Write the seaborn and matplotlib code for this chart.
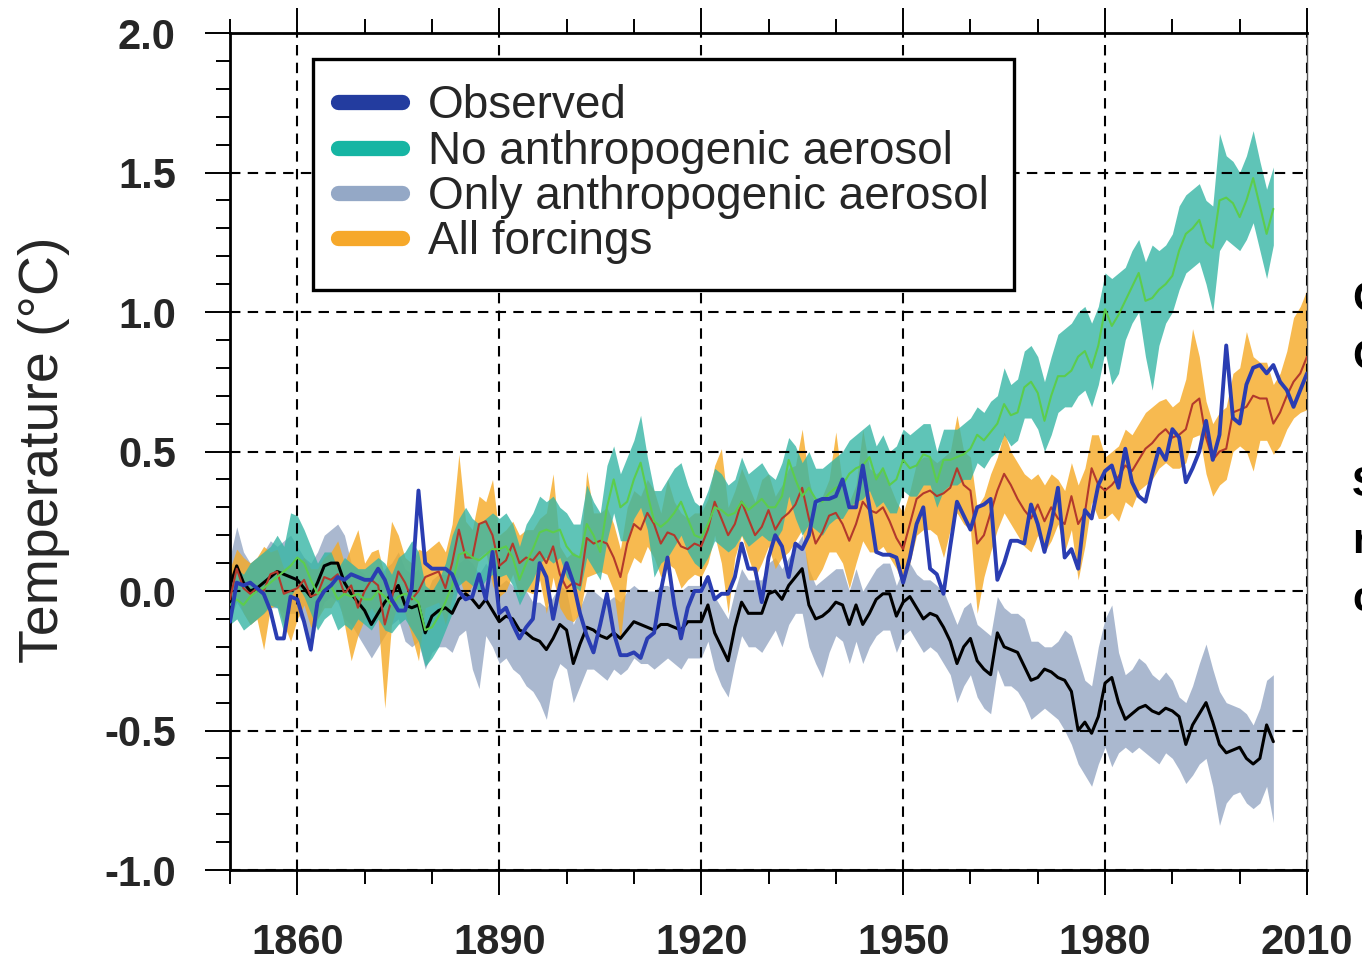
import numpy as np
import pandas as pd
import matplotlib
matplotlib.use("Agg")
import matplotlib.pyplot as plt
from matplotlib.lines import Line2D
from matplotlib.ticker import MultipleLocator, FixedLocator
from matplotlib import font_manager
from matplotlib.font_manager import FontProperties
import seaborn as sns

# ---------------- data ----------------
years_long = list(range(1850, 2011))    # observed & all forcings
years_short = list(range(1850, 2006))   # single-forcing experiments

observed = [
    -0.11, 0.03, 0.02, 0.03, 0.01, -0.01, -0.07, -0.17, -0.17, -0.02,
    -0.03, -0.11, -0.21, -0.04, 0.00, 0.02, 0.05, 0.04, 0.06, 0.05,
    0.04, 0.04, 0.08, 0.04, -0.03, -0.07, -0.07, 0.01, 0.36, 0.10,
    0.08, 0.08, 0.08, 0.06, 0.00, -0.03, -0.02, 0.06, -0.03, 0.14,
    -0.08, -0.06, -0.12, -0.17, -0.13, -0.10, 0.10, 0.05, -0.10, 0.02,
    0.10, 0.03, -0.08, -0.16, -0.22, -0.12, -0.01, -0.15, -0.23, -0.23,
    -0.22, -0.24, -0.17, -0.15, 0.00, 0.12, -0.05, -0.17, -0.06, 0.00,
    0.00, 0.05, -0.03, -0.01, -0.01, 0.05, 0.17, 0.08, 0.08, -0.04,
    0.12, 0.20, 0.16, 0.05, 0.17, 0.15, 0.20, 0.32, 0.33, 0.33,
    0.34, 0.40, 0.30, 0.30, 0.45, 0.30, 0.14, 0.13, 0.13, 0.12,
    0.03, 0.12, 0.24, 0.30, 0.08, 0.06, -0.01, 0.16, 0.32, 0.27,
    0.22, 0.30, 0.31, 0.33, 0.04, 0.10, 0.18, 0.18, 0.17, 0.31,
    0.24, 0.14, 0.24, 0.37, 0.12, 0.15, 0.08, 0.29, 0.26, 0.38,
    0.43, 0.45, 0.37, 0.51, 0.39, 0.34, 0.32, 0.42, 0.51, 0.47,
    0.58, 0.55, 0.39, 0.44, 0.50, 0.61, 0.47, 0.56, 0.88, 0.62,
    0.60, 0.74, 0.80, 0.81, 0.78, 0.81, 0.75, 0.72, 0.66, 0.72, 0.78,
]

all_forcings = [
    -0.03, 0.08, 0.01, -0.01, 0.01, 0.00, 0.06, 0.07, -0.01, 0.00,
    0.01, 0.04, -0.02, -0.01, 0.05, 0.04, 0.06, -0.01, 0.02, -0.06,
    0.00, 0.04, 0.02, -0.12, -0.03, 0.07, 0.03, -0.03, 0.00, 0.05,
    0.06, 0.07, 0.01, 0.10, 0.22, 0.12, 0.12, 0.24, 0.25, 0.20,
    0.09, 0.11, 0.17, 0.10, 0.12, 0.11, 0.14, 0.10, 0.16, 0.06,
    0.01, 0.03, 0.02, 0.19, 0.17, 0.18, 0.17, 0.12, 0.05, 0.17,
    0.24, 0.22, 0.28, 0.24, 0.17, 0.21, 0.20, 0.16, 0.15, 0.17,
    0.16, 0.22, 0.32, 0.26, 0.20, 0.24, 0.32, 0.26, 0.20, 0.23,
    0.29, 0.22, 0.26, 0.28, 0.31, 0.37, 0.26, 0.17, 0.21, 0.27,
    0.28, 0.24, 0.18, 0.24, 0.32, 0.29, 0.28, 0.30, 0.25, 0.19,
    0.15, 0.24, 0.33, 0.35, 0.36, 0.34, 0.35, 0.37, 0.44, 0.38,
    0.36, 0.17, 0.20, 0.28, 0.36, 0.42, 0.38, 0.33, 0.29, 0.26,
    0.31, 0.25, 0.30, 0.26, 0.24, 0.34, 0.24, 0.28, 0.44, 0.38,
    0.36, 0.38, 0.41, 0.45, 0.43, 0.47, 0.51, 0.53, 0.56, 0.58,
    0.55, 0.56, 0.58, 0.67, 0.69, 0.55, 0.47, 0.50, 0.51, 0.64,
    0.65, 0.66, 0.70, 0.69, 0.69, 0.60, 0.64, 0.70, 0.75, 0.78, 0.84,
]
all_forcings_hi = [
    0.08, 0.15, 0.12, 0.10, 0.12, 0.16, 0.14, 0.15, 0.08, 0.10,
    0.10, 0.12, 0.08, 0.08, 0.12, 0.14, 0.18, 0.10, 0.16, 0.22,
    0.10, 0.14, 0.15, 0.05, 0.25, 0.20, 0.12, 0.10, 0.15, 0.14,
    0.16, 0.18, 0.14, 0.24, 0.49, 0.25, 0.22, 0.34, 0.32, 0.40,
    0.20, 0.22, 0.25, 0.20, 0.22, 0.22, 0.26, 0.28, 0.42, 0.16,
    0.12, 0.14, 0.12, 0.43, 0.28, 0.28, 0.30, 0.24, 0.15, 0.30,
    0.36, 0.34, 0.40, 0.36, 0.28, 0.40, 0.32, 0.28, 0.26, 0.28,
    0.28, 0.33, 0.45, 0.51, 0.30, 0.36, 0.44, 0.38, 0.32, 0.40,
    0.42, 0.34, 0.38, 0.44, 0.45, 0.58, 0.40, 0.30, 0.34, 0.40,
    0.57, 0.38, 0.32, 0.38, 0.58, 0.44, 0.42, 0.44, 0.38, 0.32,
    0.28, 0.36, 0.46, 0.48, 0.48, 0.46, 0.48, 0.50, 0.63, 0.50,
    0.48, 0.30, 0.34, 0.42, 0.48, 0.57, 0.50, 0.46, 0.42, 0.40,
    0.42, 0.38, 0.42, 0.40, 0.36, 0.46, 0.38, 0.44, 0.56, 0.56,
    0.48, 0.50, 0.52, 0.58, 0.56, 0.60, 0.64, 0.66, 0.68, 0.69,
    0.66, 0.68, 0.76, 0.94, 0.84, 0.68, 0.60, 0.64, 0.66, 0.78,
    0.80, 0.93, 0.84, 0.82, 0.82, 0.74, 0.78, 0.86, 0.98, 1.02, 1.08,
]
all_forcings_lo = [
    -0.12, -0.02, -0.08, -0.12, -0.10, -0.21, -0.06, -0.05, -0.12, -0.18,
    -0.10, -0.05, -0.13, -0.10, -0.06, -0.06, -0.02, -0.12, -0.25, -0.16,
    -0.10, -0.06, -0.10, -0.42, -0.12, -0.04, -0.08, -0.16, -0.25, -0.06,
    -0.05, -0.04, -0.12, -0.02, 0.05, -0.02, 0.02, 0.12, 0.14, 0.02,
    -0.02, 0.00, 0.06, -0.02, 0.00, -0.01, 0.04, -0.08, 0.05, -0.06,
    -0.10, -0.11, -0.08, 0.05, 0.06, 0.07, 0.06, 0.00, -0.18, 0.06,
    0.12, 0.10, 0.16, 0.12, 0.05, 0.10, 0.08, 0.01, 0.04, 0.06,
    0.05, 0.10, 0.20, 0.10, -0.08, 0.12, 0.20, 0.12, 0.05, 0.10,
    0.16, 0.08, 0.12, 0.14, 0.18, 0.22, 0.04, 0.04, 0.08, 0.14,
    0.14, 0.10, 0.01, 0.10, 0.18, 0.14, 0.14, 0.16, 0.12, 0.08,
    0.02, 0.10, 0.20, 0.22, 0.22, 0.20, 0.12, 0.22, 0.28, 0.24,
    0.22, -0.08, 0.05, 0.14, 0.22, 0.28, 0.24, 0.20, 0.16, 0.14,
    0.20, 0.14, 0.18, 0.24, 0.14, 0.22, 0.04, 0.16, 0.32, 0.26,
    0.26, 0.28, 0.25, 0.32, 0.30, 0.36, 0.38, 0.40, 0.44, 0.46,
    0.44, 0.44, 0.46, 0.55, 0.56, 0.42, 0.34, 0.38, 0.40, 0.50,
    0.52, 0.50, 0.43, 0.54, 0.54, 0.49, 0.52, 0.58, 0.62, 0.64, 0.65,
]

no_aerosol = [
    -0.05, -0.03, -0.05, -0.02, 0.00, 0.01, 0.03, 0.05, 0.07, 0.09,
    0.12, 0.10, 0.04, -0.01, 0.01, 0.02, -0.03, -0.01, -0.02, -0.01,
    -0.03, -0.03, 0.00, -0.02, -0.05, -0.02, -0.01, -0.02, -0.04, -0.14,
    -0.13, -0.09, -0.04, 0.02, 0.13, 0.14, 0.12, 0.11, 0.13, 0.15,
    0.15, 0.16, 0.12, 0.04, 0.10, 0.15, 0.21, 0.22, 0.21, 0.22,
    0.16, 0.13, 0.12, 0.24, 0.20, 0.14, 0.30, 0.40, 0.30, 0.32,
    0.40, 0.46, 0.35, 0.25, 0.23, 0.25, 0.28, 0.32, 0.26, 0.20,
    0.19, 0.24, 0.30, 0.29, 0.27, 0.28, 0.32, 0.29, 0.31, 0.33,
    0.30, 0.30, 0.34, 0.47, 0.40, 0.34, 0.37, 0.33, 0.32, 0.35,
    0.37, 0.38, 0.42, 0.44, 0.45, 0.48, 0.40, 0.44, 0.38, 0.40,
    0.47, 0.44, 0.45, 0.49, 0.48, 0.39, 0.47, 0.47, 0.48, 0.49,
    0.51, 0.56, 0.54, 0.57, 0.60, 0.67, 0.63, 0.64, 0.73, 0.75,
    0.71, 0.61, 0.70, 0.77, 0.77, 0.79, 0.84, 0.86, 0.80, 0.88,
    1.01, 0.95, 0.99, 1.04, 1.09, 1.14, 1.04, 1.05, 1.08, 1.10,
    1.13, 1.22, 1.28, 1.30, 1.33, 1.25, 1.23, 1.40, 1.41, 1.39,
    1.34, 1.40, 1.48, 1.38, 1.28, 1.37,
]
no_aerosol_hi = [
    0.05, 0.08, 0.06, 0.10, 0.12, 0.14, 0.16, 0.20, 0.16, 0.28,
    0.27, 0.22, 0.16, 0.10, 0.14, 0.14, 0.08, 0.12, 0.10, 0.08,
    0.08, 0.10, 0.12, 0.10, 0.06, 0.12, 0.14, 0.18, 0.14, 0.02,
    0.00, 0.04, 0.10, 0.20, 0.26, 0.30, 0.26, 0.24, 0.26, 0.28,
    0.26, 0.28, 0.24, 0.16, 0.24, 0.28, 0.34, 0.32, 0.34, 0.30,
    0.28, 0.24, 0.24, 0.38, 0.32, 0.28, 0.45, 0.52, 0.42, 0.48,
    0.54, 0.63, 0.48, 0.36, 0.36, 0.40, 0.44, 0.46, 0.38, 0.32,
    0.30, 0.36, 0.44, 0.42, 0.38, 0.40, 0.48, 0.42, 0.44, 0.46,
    0.42, 0.40, 0.46, 0.55, 0.52, 0.46, 0.50, 0.44, 0.44, 0.46,
    0.48, 0.50, 0.54, 0.56, 0.58, 0.60, 0.52, 0.56, 0.50, 0.52,
    0.58, 0.56, 0.58, 0.60, 0.60, 0.50, 0.58, 0.58, 0.58, 0.60,
    0.62, 0.66, 0.64, 0.68, 0.70, 0.80, 0.74, 0.76, 0.86, 0.88,
    0.84, 0.75, 0.84, 0.92, 0.94, 0.96, 1.00, 1.02, 0.96, 1.02,
    1.14, 1.12, 1.14, 1.16, 1.22, 1.26, 1.18, 1.24, 1.22, 1.24,
    1.28, 1.38, 1.42, 1.44, 1.46, 1.40, 1.38, 1.64, 1.56, 1.54,
    1.50, 1.56, 1.65, 1.54, 1.44, 1.52,
]
no_aerosol_lo = [
    -0.12, -0.10, -0.14, -0.12, -0.10, -0.08, -0.05, -0.06, -0.15, -0.02,
    0.02, -0.02, -0.08, -0.14, -0.10, -0.08, -0.14, -0.12, -0.14, -0.10,
    -0.12, -0.14, -0.10, -0.14, -0.15, -0.12, -0.10, -0.14, -0.18, -0.27,
    -0.24, -0.20, -0.14, -0.08, 0.02, 0.04, 0.02, 0.00, 0.04, 0.06,
    0.05, 0.06, 0.02, -0.05, 0.00, 0.04, 0.10, 0.12, 0.10, 0.12,
    0.05, 0.02, 0.00, 0.12, 0.08, 0.04, 0.18, 0.28, 0.18, 0.18,
    0.26, 0.30, 0.22, 0.05, 0.10, 0.12, 0.16, 0.20, 0.14, 0.10,
    0.08, 0.12, 0.18, 0.16, 0.14, 0.16, 0.20, 0.16, 0.18, 0.20,
    0.18, 0.18, 0.22, 0.34, 0.26, 0.20, 0.24, 0.22, 0.20, 0.24,
    0.26, 0.26, 0.30, 0.32, 0.33, 0.36, 0.30, 0.32, 0.28, 0.28,
    0.36, 0.34, 0.34, 0.38, 0.38, 0.30, 0.36, 0.38, 0.38, 0.40,
    0.40, 0.46, 0.44, 0.48, 0.50, 0.56, 0.52, 0.54, 0.62, 0.62,
    0.58, 0.50, 0.56, 0.64, 0.66, 0.66, 0.70, 0.72, 0.66, 0.74,
    0.86, 0.74, 0.78, 0.90, 0.96, 1.00, 0.84, 0.72, 0.88, 0.96,
    1.00, 1.08, 1.14, 1.16, 1.18, 1.10, 1.00, 1.22, 1.26, 1.24,
    1.22, 1.26, 1.32, 1.22, 1.12, 1.24,
]

only_aerosol = [
    0.02, 0.09, 0.03, 0.00, 0.01, 0.03, 0.05, 0.07, 0.06, 0.05,
    0.04, 0.01, -0.02, 0.03, 0.09, 0.10, 0.10, 0.03, -0.01, -0.04,
    -0.07, -0.12, -0.08, -0.04, -0.01, 0.02, -0.05, -0.06, -0.05, -0.15,
    -0.09, -0.07, -0.06, -0.08, -0.03, -0.01, -0.03, -0.06, -0.03, -0.07,
    -0.11, -0.09, -0.10, -0.14, -0.15, -0.17, -0.18, -0.21, -0.17, -0.12,
    -0.14, -0.26, -0.19, -0.13, -0.14, -0.16, -0.17, -0.15, -0.17, -0.14,
    -0.11, -0.12, -0.13, -0.14, -0.12, -0.12, -0.13, -0.14, -0.11, -0.11,
    -0.11, -0.05, -0.15, -0.20, -0.25, -0.13, -0.04, -0.08, -0.08, -0.08,
    -0.01, 0.00, -0.03, 0.02, 0.05, 0.08, -0.05, -0.10, -0.09, -0.07,
    -0.04, -0.05, -0.12, -0.05, -0.12, -0.08, -0.03, -0.01, -0.01, -0.09,
    -0.04, -0.02, -0.06, -0.10, -0.08, -0.09, -0.13, -0.18, -0.26, -0.20,
    -0.17, -0.25, -0.28, -0.30, -0.15, -0.20, -0.21, -0.22, -0.27, -0.32,
    -0.31, -0.28, -0.29, -0.31, -0.32, -0.36, -0.50, -0.47, -0.51, -0.45,
    -0.33, -0.31, -0.40, -0.46, -0.44, -0.42, -0.41, -0.43, -0.44, -0.42,
    -0.43, -0.45, -0.55, -0.48, -0.44, -0.40, -0.47, -0.55, -0.58, -0.57,
    -0.56, -0.60, -0.62, -0.60, -0.48, -0.54,
]
only_aerosol_hi = [
    0.12, 0.23, 0.14, 0.10, 0.12, 0.14, 0.18, 0.16, 0.18, 0.20,
    0.16, 0.12, 0.10, 0.14, 0.20, 0.22, 0.24, 0.20, 0.10, 0.08,
    0.06, 0.00, 0.04, 0.08, 0.10, 0.14, 0.08, 0.06, 0.08, -0.02,
    0.04, 0.06, 0.06, 0.04, 0.10, 0.12, 0.10, 0.06, 0.10, 0.06,
    0.02, 0.04, 0.02, -0.02, 0.00, -0.04, -0.04, -0.06, -0.02, 0.02,
    0.00, -0.12, -0.06, 0.00, 0.00, -0.02, -0.04, -0.02, -0.04, 0.00,
    0.02, 0.00, 0.00, 0.00, 0.02, 0.02, 0.00, 0.00, 0.02, 0.02,
    0.02, 0.06, -0.02, -0.06, -0.10, 0.00, 0.08, 0.04, 0.04, 0.04,
    0.10, 0.12, 0.08, 0.12, 0.16, 0.20, 0.08, 0.02, 0.04, 0.06,
    0.08, 0.08, 0.00, 0.08, 0.00, 0.04, 0.08, 0.10, 0.10, 0.02,
    0.08, 0.10, 0.06, 0.04, 0.04, 0.02, 0.00, -0.06, -0.12, -0.06,
    -0.04, -0.12, -0.14, -0.16, -0.02, -0.06, -0.08, -0.08, -0.10, -0.18,
    -0.18, -0.20, -0.20, -0.18, -0.14, -0.16, -0.24, -0.32, -0.34, -0.20,
    -0.10, -0.05, -0.22, -0.30, -0.28, -0.24, -0.26, -0.30, -0.32, -0.29,
    -0.32, -0.38, -0.40, -0.34, -0.26, -0.19, -0.28, -0.36, -0.40, -0.41,
    -0.42, -0.44, -0.48, -0.42, -0.32, -0.30,
]
only_aerosol_lo = [
    -0.10, -0.04, -0.08, -0.12, -0.10, -0.08, -0.06, -0.06, -0.08, -0.08,
    -0.08, -0.12, -0.22, -0.10, -0.04, -0.02, -0.04, -0.10, -0.12, -0.16,
    -0.20, -0.24, -0.20, -0.16, -0.12, -0.10, -0.18, -0.20, -0.18, -0.28,
    -0.22, -0.20, -0.20, -0.22, -0.16, -0.14, -0.28, -0.35, -0.16, -0.20,
    -0.26, -0.24, -0.28, -0.30, -0.34, -0.36, -0.40, -0.46, -0.32, -0.26,
    -0.28, -0.40, -0.34, -0.28, -0.28, -0.30, -0.32, -0.28, -0.30, -0.28,
    -0.24, -0.26, -0.26, -0.28, -0.26, -0.24, -0.26, -0.28, -0.24, -0.24,
    -0.24, -0.18, -0.28, -0.34, -0.38, -0.26, -0.16, -0.20, -0.20, -0.22,
    -0.18, -0.14, -0.20, -0.12, -0.08, -0.08, -0.20, -0.26, -0.31, -0.22,
    -0.16, -0.18, -0.26, -0.18, -0.26, -0.20, -0.16, -0.14, -0.14, -0.22,
    -0.16, -0.14, -0.18, -0.22, -0.20, -0.22, -0.26, -0.30, -0.40, -0.34,
    -0.30, -0.38, -0.42, -0.44, -0.28, -0.34, -0.34, -0.36, -0.40, -0.46,
    -0.44, -0.42, -0.44, -0.46, -0.50, -0.55, -0.62, -0.66, -0.70, -0.62,
    -0.56, -0.63, -0.58, -0.56, -0.58, -0.56, -0.58, -0.60, -0.62, -0.58,
    -0.60, -0.64, -0.69, -0.66, -0.62, -0.60, -0.70, -0.84, -0.76, -0.73,
    -0.72, -0.76, -0.78, -0.76, -0.70, -0.83,
]

legend_labels = ["Observed", "No anthropogenic aerosol",
                 "Only anthropogenic aerosol", "All forcings"]
x_major_ticks = [1860, 1890, 1920, 1950, 1980, 2010]
y_major_ticks = [-1.0, -0.5, 0.0, 0.5, 1.0, 1.5, 2.0]
side_text = ["C", "C", "S", "r", "c"]

# ---------------- style ----------------
sns.set_theme(style="white")
names = {f.name for f in font_manager.fontManager.ttflist}
NARROW = "Liberation Sans Narrow" if "Liberation Sans Narrow" in names else None
if NARROW:
    tick_fp = FontProperties(family=NARROW, weight="bold", size=37)
    leg_fp = FontProperties(family=NARROW, size=40)
else:
    tick_fp = FontProperties(family="Liberation Sans", weight="bold", size=30)
    leg_fp = FontProperties(family="Liberation Sans", size=33)
plt.rcParams["font.family"] = ["Liberation Sans", "DejaVu Sans"]

c_blue = "#2a3db2"
c_teal = "#37b6a5"
c_grey = "#95a7c4"
c_orange = "#f6a924"
c_green = "#5ccd4c"
c_red = "#b3392c"

fig = plt.figure(figsize=(13.62, 9.63), dpi=100)
ax = fig.add_axes([230 / 1362, 1 - 870 / 963, (1307 - 230) / 1362, (870 - 33) / 963])

df_long = pd.DataFrame({"year": years_long, "obs": observed, "af": all_forcings,
                        "af_lo": all_forcings_lo, "af_hi": all_forcings_hi})
df_short = pd.DataFrame({"year": years_short, "na": no_aerosol, "na_lo": no_aerosol_lo,
                         "na_hi": no_aerosol_hi, "oa": only_aerosol,
                         "oa_lo": only_aerosol_lo, "oa_hi": only_aerosol_hi})

ALPHA = 0.8
ax.fill_between(df_short["year"], df_short["oa_lo"], df_short["oa_hi"],
                color=c_grey, alpha=ALPHA, lw=0, zorder=1)
ax.fill_between(df_long["year"], df_long["af_lo"], df_long["af_hi"],
                color=c_orange, alpha=ALPHA, lw=0, zorder=1.1)
ax.fill_between(df_short["year"], df_short["na_lo"], df_short["na_hi"],
                color=c_teal, alpha=ALPHA, lw=0, zorder=1.2)

sns.lineplot(data=df_short, x="year", y="oa", ax=ax, color="black", lw=2.2, zorder=3)
sns.lineplot(data=df_long, x="year", y="af", ax=ax, color=c_red, lw=1.5, zorder=3.1)
sns.lineplot(data=df_short, x="year", y="na", ax=ax, color=c_green, lw=1.5, zorder=3.2)
sns.lineplot(data=df_long, x="year", y="obs", ax=ax, color=c_blue, lw=2.8, zorder=3.3)

ax.set_xlim(1850, 2010)
ax.set_ylim(-1.0, 2.0)
ax.xaxis.set_major_locator(FixedLocator(x_major_ticks))
ax.xaxis.set_minor_locator(MultipleLocator(10))
ax.yaxis.set_major_locator(FixedLocator(y_major_ticks))
ax.yaxis.set_minor_locator(MultipleLocator(0.1))
ax.set_xticklabels([str(t) for t in x_major_ticks], fontproperties=tick_fp)
ax.set_yticklabels([f"{t:.1f}" for t in y_major_ticks], fontproperties=tick_fp)

ax.tick_params(axis="x", which="both", direction="out", top=True, bottom=True,
               labeltop=False, color="black")
ax.tick_params(axis="y", which="both", direction="out", left=True, right=False, color="black")
ax.tick_params(axis="x", which="major", length=18, width=1.4, pad=20)
ax.tick_params(axis="x", which="minor", length=10, width=1.4)
ax.tick_params(axis="y", which="major", length=18, width=1.4, pad=21)
ax.tick_params(axis="y", which="minor", length=10, width=1.4)

ax.set_axisbelow(False)
ax.grid(True, which="major", color="black", lw=1.5, linestyle=(0, (5, 3.5)))

for side in ["left", "bottom", "top"]:
    ax.spines[side].set_color("black")
    ax.spines[side].set_linewidth(2.0)
ax.spines["right"].set_color("#555555")
ax.spines["right"].set_linewidth(1.0)

ax.set_xlabel("")
ax.set_ylabel("Temperature (°C)", fontsize=40, family="Liberation Sans")
ax.yaxis.set_label_coords((44 - 230) / 1077, (870 - 450) / 837)
ax.yaxis.label.set_va("center")

handles = [Line2D([0], [0], color=c, lw=11, solid_capstyle="round")
           for c in ["#233c9f", "#16b5a3", "#94a8c6", "#f6a82a"]]
leg = ax.legend(handles, legend_labels, loc="upper left",
                bbox_to_anchor=((313 - 230) / 1077, (870 - 59) / 837),
                borderaxespad=0, frameon=True, fancybox=False, framealpha=1,
                edgecolor="black", prop=leg_fp, handlelength=1.4,
                handletextpad=0.55, labelspacing=0.03, borderpad=0.55)
leg.get_frame().set_linewidth(2.4)
leg.set_zorder(5)

side_y = [300, 358, 485, 542, 600]
for s, yy in zip(side_text, side_y):
    fig.text(1352 / 1362, 1 - yy / 963, s, fontproperties=tick_fp,
             ha="left", va="center", color="black")

fig.savefig("out.png", dpi=100)
